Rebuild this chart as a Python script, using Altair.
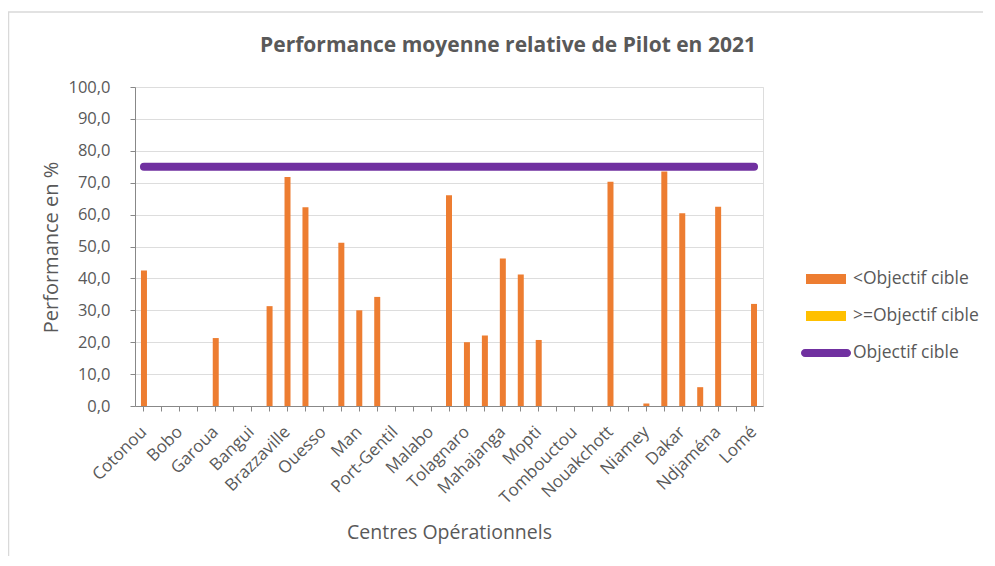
import json
import altair as alt
import pandas as pd

# Shown category labels (every other centre is labelled, as in the reference)
shown_labels = ["Cotonou", "Bobo", "Garoua", "Bangui", "Brazzaville", "Ouesso", "Man",
                "Port-Gentil", "Malabo", "Tolagnaro", "Mahajanga", "Mopti", "Tombouctou",
                "Nouakchott", "Niamey", "Dakar", "Ndjaména", "Lomé"]

# Performance (%) per centre position (35 positions)
perf_below = [42.5, 0, 0, 0, 21.3, 0, 0, 31.3, 71.8, 62.3,
              0, 51.2, 30.0, 34.2, 0, 0, 0, 66.1, 20.0, 22.1,
              46.2, 41.2, 20.7, 0, 0, 0, 70.3, 0, 0.8, 73.5,
              60.4, 5.9, 62.5, 0, 32.0]
perf_above = [0] * 35
target_value = 75.0
y_ticks = [0, 10, 20, 30, 40, 50, 60, 70, 80, 90, 100]

chart_title = "Performance moyenne relative de Pilot en 2021"
bar_series = ["<Objectif cible", ">=Objectif cible"]
bar_colors = ["#ED7D31", "#FFC000"]
line_series = ["Objectif cible"]
line_colors = ["#7030A0"]

rows = []
for i, (b, a) in enumerate(zip(perf_below, perf_above)):
    rows.append({"idx": i, "value": b, "series": bar_series[0]})
    rows.append({"idx": i, "value": a, "series": bar_series[1]})
bars_df = pd.DataFrame(rows)
line_df = pd.DataFrame({"idx": list(range(35)), "value": [target_value] * 35,
                        "series": line_series * 35})

label_expr = "datum.value % 2 == 0 ? " + json.dumps(shown_labels) + "[datum.value / 2] : ''"

FONT = "Open Sans"
TXT = "#595959"

x_enc = alt.X("idx:O", scale=alt.Scale(paddingInner=0, paddingOuter=0),
              axis=alt.Axis(title="Centres  Opérationnels", labelExpr=label_expr,
                            labelAngle=-45, labelAlign="right", labelBaseline="middle",
                            labelPadding=18, labelFontSize=17, labelColor=TXT,
                            labelFont=FONT, titleFont=FONT, titleColor=TXT,
                            titleFontSize=19.5, titleFontWeight="normal", titleY=117,
                            titleBaseline="top"))
y_enc = alt.Y("value:Q", scale=alt.Scale(domain=[0, 100]),
              axis=alt.Axis(title="Performance  en %", values=y_ticks,
                            labelOverlap=False,
                            labelExpr="replace(format(datum.value, '.1f'), '.', ',')",
                            labelFontSize=16.5, labelPadding=20, labelColor=TXT,
                            labelFont=FONT, titleFont=FONT, titleColor=TXT,
                            titleFontSize=20,
                            titleFontWeight="normal", titleX=-74, titleY=160))

rect_path = "M-2,-0.5 L2,-0.5 L2,0.5 L-2,0.5 Z"
stad_path = "M-2.1,-0.4 L2.1,-0.4 A0.4,0.4 0 0 1 2.1,0.4 L-2.1,0.4 A0.4,0.4 0 0 1 -2.1,-0.4 Z"

legend_common = dict(title=None, orient="none", symbolSize=400, labelOffset=17,
                     rowPadding=18, labelFontSize=17.5, labelColor=TXT, labelFont=FONT,
                     padding=0, symbolStrokeWidth=0)

bars = alt.Chart(bars_df).mark_bar(size=6).encode(
    x=x_enc,
    y=y_enc,
    color=alt.Color("series:N",
                    scale=alt.Scale(domain=bar_series, range=bar_colors),
                    legend=alt.Legend(legendX=681, legendY=182, symbolType=rect_path,
                                      **legend_common)),
)

line = alt.Chart(line_df).mark_line(strokeWidth=8, strokeCap="round").encode(
    x=x_enc,
    y=y_enc,
    color=alt.Color("series:N",
                    scale=alt.Scale(domain=line_series, range=line_colors),
                    legend=alt.Legend(legendX=681, legendY=256, symbolType=stad_path,
                                      symbolFillColor="#7030A0", **legend_common)),
)

title_df = pd.DataFrame({"t": [chart_title]})
title_mark = alt.Chart(title_df).mark_text(
    font=FONT, fontSize=21, fontWeight="bold", color=TXT, align="center",
    baseline="alphabetic").encode(text="t:N", x=alt.value(373), y=alt.value(-35))

frame = alt.Chart(pd.DataFrame({"a": [0]})).mark_rect(
    fill=None, stroke="#d9d9d9", strokeWidth=1.5).encode(
    x=alt.value(-126.5), x2=alt.value(900), y=alt.value(-75), y2=alt.value(600))

chart = alt.layer(frame, bars, line, title_mark).resolve_scale(color="independent").properties(
    width=628, height=319,
    autosize=alt.AutoSizeParams(type="none"),
    padding={"left": 127, "top": 79, "right": 220, "bottom": 150},
).configure_axis(
    labelColor=TXT, titleColor=TXT, labelFont=FONT, titleFont=FONT,
    gridColor="#d9d9d9", gridWidth=1.3, domainColor="#d9d9d9", domainWidth=1.3,
    ticks=False,
).configure_axisY(domain=False, grid=True).configure_axisX(grid=False).configure_view(
    strokeWidth=0
).configure(background="white")

chart.save("out.html", embed_options={"renderer": "svg", "actions": False})
